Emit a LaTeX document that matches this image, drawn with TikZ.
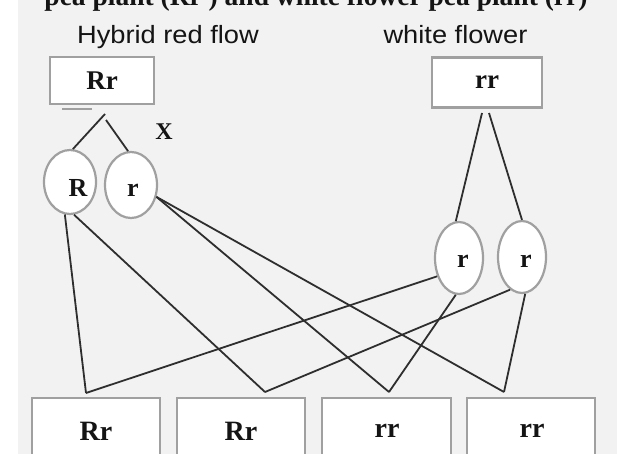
\documentclass[tikz,border=0pt]{standalone}
\usepackage{fontspec}
\setmainfont{Liberation Serif}
\setsansfont{Liberation Sans}
\usetikzlibrary{shapes.geometric}
\definecolor{bg}{HTML}{F2F2F2}
\definecolor{bord}{HTML}{A0A0A0}
\definecolor{ink}{HTML}{141414}
\definecolor{wire}{HTML}{2E2E2E}
\tikzset{
  gbox/.style={draw=bord, line width=2.5pt, fill=white, rectangle, inner sep=0pt, text=ink,
    font=\bfseries\fontsize{27}{30}\selectfont},
  gell/.style={draw=bord, line width=2.2pt, fill=white, ellipse, inner sep=0pt},
  glab/.style={text=ink, font=\bfseries\fontsize{26}{30}\selectfont, inner sep=0pt},
  head/.style={text=ink, font=\sffamily\fontsize{25}{30}\selectfont, inner sep=0pt, anchor=base, xscale=1.09},
  wire/.style={draw=wire, line width=1.8pt}
}
\begin{document}
\begin{tikzpicture}[x=1pt, y=-1pt]
\useasboundingbox (0,0) rectangle (617,454);
\fill[bg] (18,0) rectangle (617,454);
% title (cut off at top)
\node[text=ink, font=\bfseries\fontsize{27.5}{30}\selectfont, inner sep=0pt, anchor=base] (title) at (316,6) {pea plant (Rr ) and white flower pea plant (rr)};
\node[head] (hl) at (168,44) {Hybrid red flow};
\node[head] (hr) at (455.5,44) {white flower};
% parents
\node[gbox, minimum width=104pt, minimum height=47pt] (tl) at (102,80.5) {Rr};
\node[gbox, minimum width=110pt, minimum height=50pt] (tr) at (487,82.5) {rr};
\draw[bord, line width=2pt] (62,109) coordinate (m1) -- (92,109) coordinate (m2);
\node[glab, font=\bfseries\fontsize{24}{28}\selectfont] (X) at (164,132) {X};
% gametes
\node[gell, minimum width=52pt, minimum height=64pt] (R) at (70,182) {};
\node[glab] (Rt) at (78,188) {R};
\node[gell, minimum width=52pt, minimum height=66pt] (r) at (131,185) {};
\node[glab] (rt) at (133,190) {r};
\node[gell, minimum width=48pt, minimum height=72pt] (r1) at (459,258) {};
\node[glab] (r1t) at (463,261) {r};
\node[gell, minimum width=48pt, minimum height=72pt] (r2) at (522,257) {};
\node[glab] (r2t) at (526,261) {r};
% offspring
\node[gbox, minimum width=128pt, minimum height=80pt] (o1) at (96,438) {};
\node[gbox, minimum width=128pt, minimum height=80pt] (o2) at (241,438) {};
\node[gbox, minimum width=129pt, minimum height=80pt] (o3) at (386.5,438) {};
\node[gbox, minimum width=128pt, minimum height=80pt] (o4) at (531,438) {};
\node[glab, font=\bfseries\fontsize{28}{30}\selectfont] (o1t) at (96,431) {Rr};
\node[glab, font=\bfseries\fontsize{28}{30}\selectfont] (o2t) at (241,431) {Rr};
\node[glab, font=\bfseries\fontsize{28}{30}\selectfont] (o3t) at (387,431) {rr};
\node[glab, font=\bfseries\fontsize{28}{30}\selectfont] (o4t) at (532,431) {rr};
% junction points
\coordinate (a1) at (105,114);
\coordinate (a2) at (106,120);
\coordinate (b1) at (482,113);
\coordinate (b2) at (489,113);
\coordinate (p1) at (86,393);
\coordinate (p2) at (265,392);
\coordinate (p3) at (389,392);
\coordinate (p4) at (504,392);
% connectors
\draw[wire] (a1) -- (R.85);
\draw[wire] (a2) -- (r.95);
\draw[wire] (b1) -- (r1.95);
\draw[wire] (b2) -- (r2.90);
\draw[wire] (R.-99) -- (p1);
\draw[wire] (R.-83) -- (p2);
\draw[wire] (r.-25) -- (p3);
\draw[wire] (r.-25) -- (p4);
\draw[wire] (r1.-140) -- (p1);
\draw[wire] (r2.-110) -- (p2);
\draw[wire] (r1.-95) -- (p3);
\draw[wire] (r2.-85) -- (p4);
\end{tikzpicture}
\end{document}
